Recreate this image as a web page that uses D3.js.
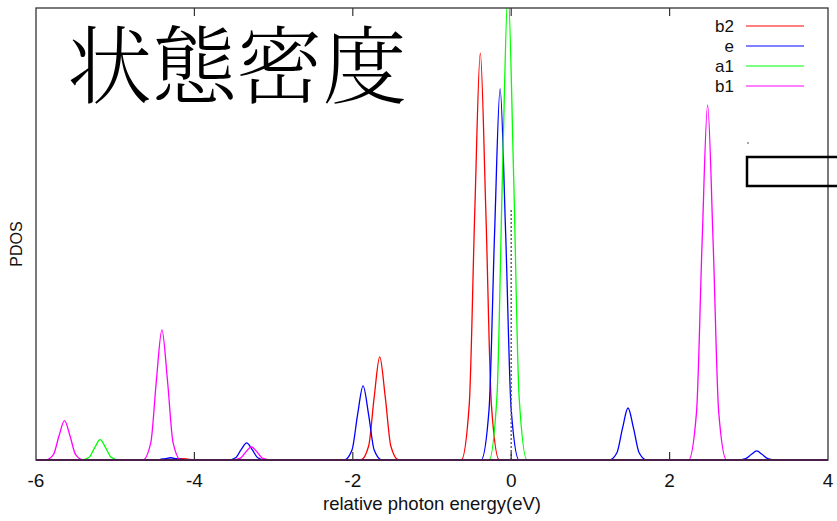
<!DOCTYPE html>
<html>
<head>
<meta charset="utf-8">
<script src="https://cdnjs.cloudflare.com/ajax/libs/d3/7.8.5/d3.min.js"></script>
<style>
  body { margin: 0; background: #fff; }
  svg { display: block; }
  .tick-label { font-family: "Liberation Sans", sans-serif; font-size: 19px; fill: #111; }
  .axis-label { font-family: "Liberation Sans", sans-serif; font-size: 18.5px; fill: #111; }
  .legend-label { font-family: "Liberation Sans", sans-serif; font-size: 17px; fill: #111; }
</style>
</head>
<body>
<svg id="chart" width="837" height="521"></svg>
<script>
// データ: 各成分のPDOS (x: eV, y: 任意単位) — 図から読み取り
const X_TICKS = [-6, -4, -2, 0, 2, 4];
const SERIES_NAMES = ['b2', 'e', 'a1', 'b1'];
const SERIES_COLORS = ['#ff0000', '#0000ff', '#00ff00', '#ff00ff'];

const b2 = [
    [-6, 0],
    [-4.40, 0], [-4.30, 0.0004], [-4.23, 0.002], [-4.16, 0.003], [-4.09, 0.002], [-4.02, 0.0004], [-3.92, 0],
    [-1.90, 0], [-1.80, 0.031], [-1.73, 0.139], [-1.66, 0.228], [-1.59, 0.139], [-1.52, 0.031], [-1.42, 0],
    [-0.63, 0], [-0.53, 0.122], [-0.46, 0.549], [-0.39, 0.900], [-0.32, 0.549], [-0.25, 0.122], [-0.15, 0],
    [4, 0]
];
const e = [
    [-6, 0],
    [-4.54, 0], [-4.44, 0.001], [-4.37, 0.003], [-4.30, 0.005], [-4.23, 0.003], [-4.16, 0.001], [-4.06, 0],
    [-3.58, 0], [-3.48, 0.005], [-3.41, 0.023], [-3.34, 0.038], [-3.27, 0.023], [-3.20, 0.005], [-3.10, 0],
    [-2.11, 0], [-2.01, 0.022], [-1.94, 0.100], [-1.87, 0.164], [-1.80, 0.100], [-1.73, 0.022], [-1.63, 0],
    [-0.38, 0], [-0.28, 0.111], [-0.21, 0.501], [-0.14, 0.821], [-0.07, 0.501], [0.00, 0.111], [0.10, 0],
    [1.235, 0], [1.335, 0.016], [1.405, 0.070], [1.475, 0.115], [1.545, 0.070], [1.615, 0.016], [1.715, 0],
    [2.86, 0], [2.96, 0.003], [3.03, 0.012], [3.10, 0.020], [3.17, 0.012], [3.24, 0.003], [3.34, 0],
    [4, 0]
];
const a1 = [
    [-6, 0],
    [-5.43, 0], [-5.33, 0.006], [-5.26, 0.027], [-5.19, 0.045], [-5.12, 0.027], [-5.05, 0.006], [-4.95, 0],
    [-0.28, 0], [-0.18, 0.140], [-0.11, 0.634], [-0.04, 1.04], [0.03, 0.634], [0.10, 0.140], [0.20, 0],
    [4, 0]
];
const b1 = [
    [-6, 0],
    [-5.88, 0], [-5.78, 0.012], [-5.71, 0.053], [-5.64, 0.087], [-5.57, 0.053], [-5.50, 0.012], [-5.40, 0],
    [-4.65, 0], [-4.55, 0.039], [-4.48, 0.176], [-4.41, 0.288], [-4.34, 0.176], [-4.27, 0.039], [-4.17, 0],
    [-3.52, 0], [-3.42, 0.004], [-3.35, 0.018], [-3.28, 0.029], [-3.21, 0.018], [-3.14, 0.004], [-3.04, 0],
    [2.24, 0], [2.34, 0.106], [2.41, 0.479], [2.48, 0.785], [2.55, 0.479], [2.62, 0.106], [2.72, 0],
    [4, 0]
];
const SERIES_DATA = [b2, e, a1, b1];

// フェルミ準位 (点線)
const FERMI_LINE = [[0, 0], [0, 0.557]];

const svg = d3.select('#chart');
const margin = { top: 8, left: 36, right: 9, bottom: 61 };
const width = 837 - margin.left - margin.right;
const height = 521 - margin.top - margin.bottom;

const x = d3.scaleLinear().domain([-6, 4]).range([0, width]);
const y = d3.scaleLinear().domain([0, 1]).range([height, 0]);

const g = svg.append('g').attr('transform', `translate(${margin.left},${margin.top})`);

g.append('defs').append('clipPath').attr('id', 'clip')
    .append('rect').attr('x', 0).attr('y', 0).attr('width', width).attr('height', height);

const line = d3.line()
    .x(d => x(d[0]))
    .y(d => y(d[1]))
    .curve(d3.curveMonotoneX);

const plot = g.append('g').attr('clip-path', 'url(#clip)');

SERIES_DATA.forEach((data, i) => {
    plot.append('path')
        .datum(data)
        .attr('fill', 'none')
        .attr('stroke', SERIES_COLORS[i])
        .attr('stroke-width', 1.3)
        .attr('d', line);
});

// 点線
plot.append('path')
    .datum(FERMI_LINE)
    .attr('fill', 'none')
    .attr('stroke', '#666')
    .attr('stroke-width', 1.5)
    .attr('stroke-dasharray', '2,2')
    .attr('d', d3.line().x(d => x(d[0])).y(d => y(d[1])));

// 枠
g.append('rect')
    .attr('x', 0).attr('y', 0)
    .attr('width', width).attr('height', height)
    .attr('fill', 'none')
    .attr('stroke', '#333')
    .attr('stroke-width', 1.3);
g.append('line')
    .attr('x1', 0).attr('x2', width)
    .attr('y1', height).attr('y2', height)
    .attr('stroke', '#4a1f4a')
    .attr('stroke-width', 2);

// 目盛り (内向き)
const innerTicks = X_TICKS.slice(1, -1);
g.selectAll('.tick-b').data(innerTicks).enter().append('line')
    .attr('x1', d => x(d)).attr('x2', d => x(d))
    .attr('y1', height).attr('y2', height - 8)
    .attr('stroke', '#333').attr('stroke-width', 1.2);
g.selectAll('.tick-t').data(innerTicks).enter().append('line')
    .attr('x1', d => x(d)).attr('x2', d => x(d))
    .attr('y1', 0).attr('y2', 8)
    .attr('stroke', '#333').attr('stroke-width', 1.2);

g.selectAll('.tick-text').data(X_TICKS).enter().append('text')
    .attr('class', 'tick-label')
    .attr('x', d => x(d))
    .attr('y', height + 27)
    .attr('text-anchor', 'middle')
    .text(d => d);

// 軸ラベル
g.append('text')
    .attr('class', 'axis-label')
    .attr('x', 396)
    .attr('y', height + 50)
    .attr('text-anchor', 'middle')
    .text('relative photon energy(eV)');

svg.append('text')
    .attr('class', 'axis-label')
    .attr('transform', 'translate(22,244) rotate(-90)')
    .attr('text-anchor', 'middle')
    .style('font-size', '16px')
    .text('PDOS');

// 凡例
const legend = svg.append('g');
SERIES_NAMES.forEach((name, i) => {
    const ly = 26 + i * 20;
    legend.append('text')
        .attr('class', 'legend-label')
        .attr('x', 734)
        .attr('y', ly + 6)
        .attr('text-anchor', 'end')
        .text(name);
    legend.append('line')
        .attr('x1', 746).attr('x2', 804)
        .attr('y1', ly).attr('y2', ly)
        .attr('stroke', SERIES_COLORS[i])
        .attr('stroke-width', 1.2);
});

// 右側の枠
svg.append('rect')
    .attr('x', 747).attr('y', 157)
    .attr('width', 100).attr('height', 29)
    .attr('fill', 'none')
    .attr('stroke', '#000')
    .attr('stroke-width', 2.5);
svg.append('rect')
    .attr('x', 747.5).attr('y', 142)
    .attr('width', 1).attr('height', 2)
    .attr('fill', '#555');

// タイトル
svg.append('text')
    .attr('x', 67)
    .attr('y', 97)
    .style('font-family', '"Noto Serif CJK JP", "Noto Sans CJK JP", serif')
    .style('font-size', '85px')
    .style('font-weight', 300)
    .attr('fill', '#000')
    .text('状態密度');
</script>
</body>
</html>
